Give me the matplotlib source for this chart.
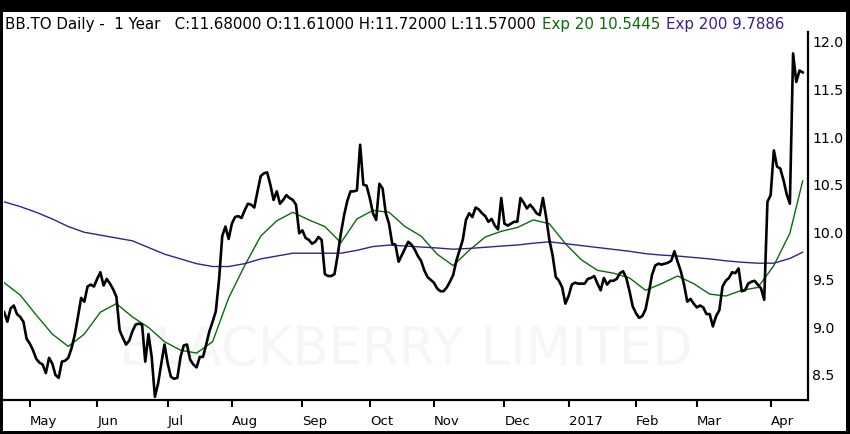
import matplotlib
matplotlib.use('Agg')
import matplotlib.pyplot as plt
from matplotlib.patches import Rectangle
from matplotlib.ticker import FormatStrFormatter
import numpy as np
import pandas as pd

# trading days (TSX holidays removed)
holidays = ['2016-05-23', '2016-07-01', '2016-08-01', '2016-09-05', '2016-10-10',
            '2016-12-26', '2016-12-27', '2017-01-02', '2017-02-20', '2017-04-14']
dates = pd.bdate_range('2016-04-20', '2017-04-18')
dates = dates[~dates.isin(pd.to_datetime(holidays))]

# daily close
close = [
    9.16, 9.06, 9.20, 9.23, 9.14, 9.11, 9.06, 8.88, 8.83, 8.76,
    8.67, 8.63, 8.61, 8.52, 8.68, 8.62, 8.50, 8.47, 8.64, 8.65,
    8.68, 8.78, 8.92, 9.11, 9.31, 9.27, 9.43, 9.45, 9.43, 9.51,
    9.58, 9.44, 9.51, 9.46, 9.40, 9.32, 8.97, 8.89, 8.82, 8.86,
    8.96, 9.03, 9.04, 9.03, 8.64, 8.93, 8.69, 8.27, 8.41, 8.62,
    8.82, 8.62, 8.48, 8.46, 8.47, 8.69, 8.81, 8.82, 8.66, 8.61,
    8.58, 8.69, 8.69, 8.82, 8.96, 9.06, 9.17, 9.50, 9.96, 10.06,
    9.93, 10.09, 10.16, 10.17, 10.15, 10.23, 10.30, 10.29, 10.26, 10.43,
    10.59, 10.62, 10.63, 10.50, 10.34, 10.43, 10.30, 10.34, 10.39, 10.36,
    10.34, 10.29, 9.99, 10.02, 9.94, 9.92, 9.88, 9.90, 9.95, 9.92,
    9.56, 9.54, 9.54, 9.56, 9.76, 9.99, 10.18, 10.33, 10.43, 10.43,
    10.44, 10.92, 10.50, 10.49, 10.36, 10.20, 10.13, 10.51, 10.46, 10.20,
    10.09, 9.88, 9.87, 9.69, 9.76, 9.83, 9.90, 9.87, 9.82, 9.75,
    9.70, 9.60, 9.53, 9.50, 9.47, 9.41, 9.38, 9.38, 9.42, 9.48,
    9.55, 9.70, 9.81, 9.92, 10.13, 10.20, 10.16, 10.26, 10.24, 10.20,
    10.17, 10.11, 10.14, 10.07, 10.03, 10.36, 10.09, 10.07, 10.09, 10.11,
    10.11, 10.36, 10.31, 10.25, 10.29, 10.25, 10.20, 10.18, 10.36, 10.16,
    9.92, 9.76, 9.53, 9.49, 9.42, 9.25, 9.33, 9.45, 9.47, 9.46,
    9.46, 9.46, 9.51, 9.52, 9.54, 9.46, 9.39, 9.52, 9.45, 9.49,
    9.49, 9.51, 9.57, 9.59, 9.52, 9.38, 9.22, 9.15, 9.10, 9.12,
    9.19, 9.36, 9.55, 9.65, 9.67, 9.66, 9.67, 9.68, 9.70, 9.80,
    9.69, 9.59, 9.45, 9.27, 9.30, 9.25, 9.21, 9.23, 9.21, 9.14,
    9.14, 9.01, 9.12, 9.18, 9.43, 9.49, 9.52, 9.58, 9.57, 9.62,
    9.38, 9.39, 9.46, 9.48, 9.49, 9.45, 9.41, 9.29, 10.32, 10.39,
    10.86, 10.69, 10.67, 10.55, 10.40, 10.30, 11.88, 11.58, 11.70, 11.68,
]

# moving averages, read every 5th session plus the last one
ema20 = [
    9.47, 9.34, 9.13, 8.93, 8.80, 8.93, 9.16, 9.25, 9.11, 9.00,
    8.85, 8.76, 8.73, 8.85, 9.31, 9.65, 9.96, 10.12, 10.21, 10.13,
    10.06, 9.89, 10.14, 10.23, 10.21, 10.06, 9.96, 9.77, 9.65, 9.81,
    9.95, 10.01, 10.05, 10.13, 10.09, 9.88, 9.71, 9.60, 9.57, 9.52,
    9.39, 9.46, 9.54, 9.46, 9.35, 9.33, 9.39, 9.42, 9.65, 9.99,
    10.54,
]
ema200 = [
    10.32, 10.27, 10.21, 10.14, 10.06, 10.00, 9.97, 9.94, 9.91, 9.84,
    9.77, 9.72, 9.67, 9.64, 9.64, 9.67, 9.72, 9.75, 9.78, 9.78,
    9.78, 9.78, 9.81, 9.85, 9.865, 9.856, 9.845, 9.835, 9.822, 9.83,
    9.842, 9.855, 9.866, 9.885, 9.90, 9.88, 9.86, 9.84, 9.82, 9.80,
    9.775, 9.76, 9.75, 9.735, 9.72, 9.70, 9.685, 9.675, 9.675, 9.725,
    9.79,
]
ema_step = 5

title_parts = [
    ('BB.TO Daily -  1 Year   C:11.68000 O:11.61000 H:11.72000 L:11.57000', 'black'),
    ('Exp 20 10.5445', '#0b6b0b'),
    ('Exp 200 9.7886', '#3b1d8f'),
]

x = np.arange(len(dates))
ema_x = np.r_[x[::ema_step], x[-1]]

# month ticks on first session of each month
month = dates.to_period('M')
starts = np.flatnonzero(month[1:] != month[:-1]) + 1
labels = [str(d.year) if d.month == 1 else d.strftime('%b') for d in dates[starts]]

W, H = 850, 434
fig = plt.figure(figsize=(W / 100, H / 100), dpi=100)
fig.patch.set_facecolor('black')
fig.add_artist(Rectangle((3 / W, 3 / H), 843 / W, 419 / H, transform=fig.transFigure,
                         facecolor='white', edgecolor='none', zorder=0))

ax = fig.add_axes([4 / W, 34 / H, 804 / W, 368 / H])
ax.text(0.5, 0.135, 'BLACKBERRY LIMITED', transform=ax.transAxes, ha='center', va='center',
        fontsize=38, color='#f6f6f6', zorder=0)

ax.plot(x, close, color='black', lw=1.9, zorder=3)
ax.plot(ema_x, ema20, color='#0b6b0b', lw=1.0, zorder=2)
ax.plot(ema_x, ema200, color='#3b1d8f', lw=1.0, zorder=2)

ax.set_xlim(-0.05, 250.65)
ax.set_ylim(8.237, 12.105)

# axes styling
for s in ['top', 'left']:
    ax.spines[s].set_visible(False)
for s in ['bottom', 'right']:
    ax.spines[s].set_linewidth(1.6)

ax.yaxis.tick_right()
ax.set_yticks(np.arange(8.5, 12.01, 0.5))
ax.yaxis.set_major_formatter(FormatStrFormatter('%.1f'))
ax.tick_params(axis='y', length=0, pad=3, labelsize=10.2)

ax.set_xticks(starts, labels, ha='left')
ax.tick_params(axis='x', length=5, width=1.5, pad=6, labelsize=9.5)

# title line in three colours
renderer = fig.canvas.get_renderer()
tx = 5
for s, c in title_parts:
    t = fig.text(tx / W, 1 - 29 / H, s, color=c, fontsize=10.8, va='baseline')
    tx = t.get_window_extent(renderer).x1 + 6

fig.savefig('out.png', dpi=100, facecolor=fig.get_facecolor())
